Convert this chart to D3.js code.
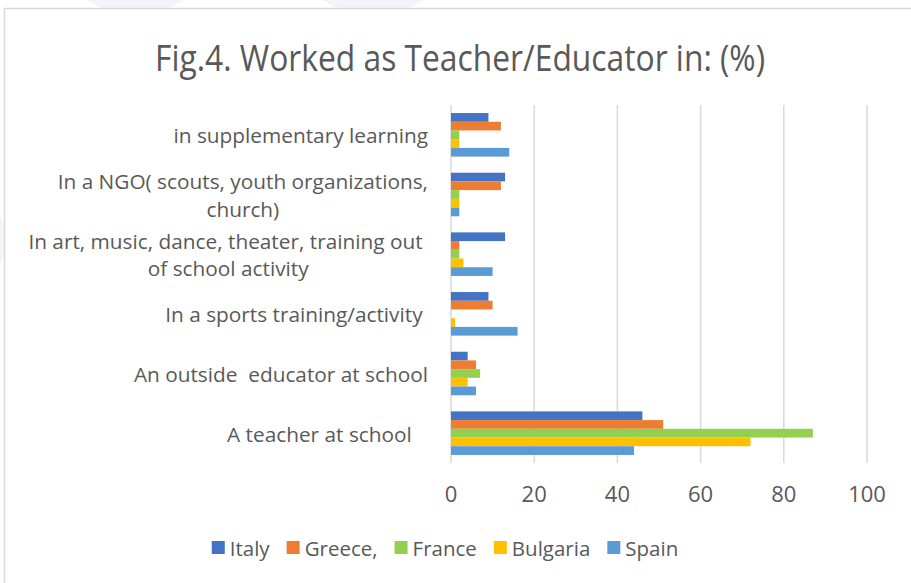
<!DOCTYPE html>
<html>
<head>
<meta charset="utf-8">
<script src="https://cdn.jsdelivr.net/npm/d3@7"></script>
<style>
  body { margin: 0; background: #ffffff; }
  text { font-family: "Open Sans", sans-serif; fill: #595959; white-space: pre; }
</style>
</head>
<body>
<div id="chart"></div>
<script>
let width = 911;
let height = 583;

// categories top to bottom, each label split in its wrapped lines
let categories = ["suppl", "ngo", "art", "sports", "outside", "teacher"];
let labels = [
    ["in supplementary learning"],
    ["In a NGO( scouts, youth organizations,", "church)"],
    ["In art, music, dance, theater, training out ", "of school activity"],
    ["In a sports training/activity "],
    ["An outside  educator at school"],
    ["A teacher at school   "]
];
let countries = ["Italy", "Greece,", "France", "Bulgaria", "Spain"];
let colors = ["#4472C4", "#ED7D31", "#92D050", "#FFC000", "#5B9BD5"];

let italy    = [9, 13, 13, 9, 4, 46];
let greece   = [12, 12, 2, 10, 6, 51];
let france   = [2, 2, 2, 0, 7, 87];
let bulgaria = [2, 2, 3, 1, 4, 72];
let spain    = [14, 2, 10, 16, 6, 44];
let series = [italy, greece, france, bulgaria, spain];

let ticks = [0, 20, 40, 60, 80, 100];

let svg = d3.select("#chart")
    .append("svg")
    .attr("width", width)
    .attr("height", height);

// faint page decoration behind the chart frame
svg.append("ellipse").attr("cx", 135).attr("cy", -60).attr("rx", 80).attr("ry", 75).style("fill", "#f3f3fa");
svg.append("ellipse").attr("cx", 373).attr("cy", -60).attr("rx", 85).attr("ry", 75).style("fill", "#f3f3fa");
svg.append("ellipse").attr("cx", -40).attr("cy", 240).attr("rx", 45).attr("ry", 55).style("fill", "#f3f3fa");

svg.append("rect")
    .attr("x", 4.5).attr("y", 8.5)
    .attr("width", width + 10).attr("height", height + 10)
    .style("fill", "#ffffff")
    .style("stroke", "#d9d9d9")
    .style("stroke-width", 1.5);

svg.append("text")
    .attr("x", 460)
    .attr("y", 71)
    .attr("text-anchor", "middle")
    .attr("textLength", 610)
    .attr("lengthAdjust", "spacingAndGlyphs")
    .style("font-size", "37px")
    .text("Fig.4. Worked as Teacher/Educator in: (%)");

let x = d3.scaleLinear().domain([0, 100]).range([451, 867]);
let y = d3.scaleBand().domain(categories).range([105, 463]).paddingInner(0.27).paddingOuter(0.135);
let yIn = d3.scaleBand().domain(countries).range([0, y.bandwidth()]);

// gridlines
svg.append("g")
    .selectAll("line")
    .data(ticks)
    .enter().append("line")
    .attr("x1", (d) => x(d)).attr("x2", (d) => x(d))
    .attr("y1", 105).attr("y2", 463)
    .style("stroke", "#d9d9d9")
    .style("stroke-width", 1.5);

// tick labels
svg.append("g")
    .selectAll("text")
    .data(ticks)
    .enter().append("text")
    .attr("x", (d) => x(d))
    .attr("y", 502)
    .attr("text-anchor", "middle")
    .style("font-size", "22px")
    .text((d) => d);

// bars
series.forEach(function (vals, i) {
    svg.append("g")
        .selectAll("rect")
        .data(vals)
        .enter().append("rect")
        .attr("x", x(0))
        .attr("y", (d, j) => y(categories[j]) + yIn(countries[i]))
        .attr("width", (d) => x(d) - x(0))
        .attr("height", yIn.bandwidth())
        .style("fill", colors[i]);
});

// category labels: block right aligned, lines centred inside the block
let rightEdge = 428;
let lineH = 27.5;
labels.forEach(function (lines, j) {
    let g = svg.append("g");
    let cy = y(categories[j]) + y.bandwidth() / 2 + 8.5;
    let texts = g.selectAll("text")
        .data(lines)
        .enter().append("text")
        .attr("y", (d, k) => cy + (k - (lines.length - 1) / 2) * lineH)
        .attr("text-anchor", "middle")
        .style("font-size", "20.8px")
        .text((d) => d);
    let w = d3.max(texts.nodes(), (n) => n.getComputedTextLength());
    texts.attr("x", rightEdge - w / 2);
});

// legend
let legend = svg.append("g");
let lx = 0;
let gap = 17;
countries.forEach(function (c, i) {
    legend.append("rect")
        .attr("x", lx).attr("y", 541)
        .attr("width", 13).attr("height", 13)
        .style("fill", colors[i]);
    let t = legend.append("text")
        .attr("x", lx + 18)
        .attr("y", 555.5)
        .style("font-size", "20.5px")
        .text(c);
    lx += 18 + t.node().getComputedTextLength() + gap;
});
let legendW = lx - gap;
legend.attr("transform", "translate(" + (445 - legendW / 2) + ",0)");
</script>
</body>
</html>
